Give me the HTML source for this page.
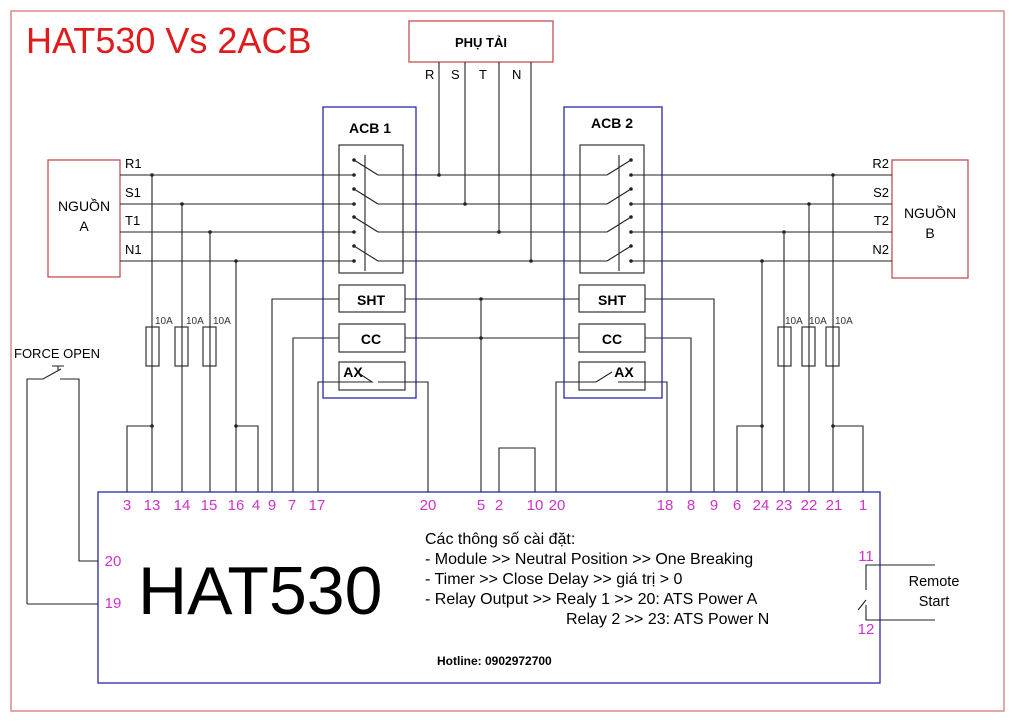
<!DOCTYPE html>
<html><head><meta charset="utf-8"><style>
html,body{margin:0;padding:0;background:#fff;width:1024px;height:724px;overflow:hidden}
svg text{font-family:"Liberation Sans","Noto Sans CJK SC",sans-serif}
</style></head><body>
<svg width="1024" height="724" viewBox="0 0 1024 724" xmlns="http://www.w3.org/2000/svg">
<rect x="11" y="11" width="993" height="700" fill="none" stroke="#d98c8c" stroke-width="1.5"/>
<text x="26" y="53" font-size="36" fill="#e01b1b">HAT530 Vs 2ACB</text>

<g fill="none" stroke="#c05050" stroke-width="1.3">
<rect x="409" y="21" width="144" height="41"/>
<rect x="48" y="160" width="72" height="117"/>
<rect x="892" y="160" width="76" height="118"/>
</g>
<text x="481" y="47" font-size="13" font-weight="bold" text-anchor="middle">PHỤ TẢI</text>
<text x="84" y="211" font-size="14" text-anchor="middle">NGUỒN</text>
<text x="84" y="231" font-size="14" text-anchor="middle">A</text>
<text x="930" y="218" font-size="14" text-anchor="middle">NGUỒN</text>
<text x="930" y="238" font-size="14" text-anchor="middle">B</text>

<g font-size="13">
<text x="425" y="79">R</text><text x="451" y="79">S</text><text x="479" y="79">T</text><text x="512" y="79">N</text>
<text x="125" y="168">R1</text><text x="125" y="197">S1</text><text x="125" y="225">T1</text><text x="125" y="254">N1</text>
<text x="889" y="168" text-anchor="end">R2</text><text x="889" y="197" text-anchor="end">S2</text><text x="889" y="225" text-anchor="end">T2</text><text x="889" y="254" text-anchor="end">N2</text>
</g>

<g fill="none" stroke="#2a2aa0" stroke-width="1.3">
<rect x="323" y="107" width="93" height="291"/>
<rect x="564" y="107" width="98" height="291"/>
<rect x="98" y="492" width="782" height="191"/>
</g>
<text x="370" y="133" font-size="14" font-weight="bold" text-anchor="middle">ACB 1</text>
<text x="612" y="128" font-size="14" font-weight="bold" text-anchor="middle">ACB 2</text>

<g fill="none" stroke="#333" stroke-width="1.2">
<rect x="339" y="145" width="64" height="128"/>
<rect x="580" y="145" width="64" height="128"/>
<rect x="339" y="285" width="66" height="27"/>
<rect x="339" y="324" width="66" height="28"/>
<rect x="339" y="362" width="66" height="28"/>
<rect x="579" y="285" width="66" height="27"/>
<rect x="579" y="324" width="66" height="28"/>
<rect x="579" y="362" width="66" height="28"/>
<rect x="146" y="327" width="13" height="39"/><rect x="175" y="327" width="13" height="39"/><rect x="203" y="327" width="13" height="39"/>
<rect x="778" y="327" width="13" height="39"/><rect x="802" y="327" width="13" height="39"/><rect x="826" y="327" width="13" height="39"/>
</g>
<g font-size="14" font-weight="bold" text-anchor="middle">
<text x="371" y="305">SHT</text><text x="371" y="344">CC</text>
<text x="612" y="305">SHT</text><text x="612" y="344">CC</text>
<text x="353" y="377">AX</text><text x="624" y="377">AX</text>
</g>
<g font-size="10" fill="#333">
<text x="155" y="324">10A</text><text x="186" y="324">10A</text><text x="213" y="324">10A</text>
<text x="785" y="324">10A</text><text x="809" y="324">10A</text><text x="835" y="324">10A</text>
</g>

<g fill="none" stroke="#222" stroke-width="1.1">
<path d="M120 175H354M120 204H354M120 232H354M120 261H354"/>
<path d="M378 175H607M378 204H607M378 232H607M378 261H607"/>
<path d="M631 175H892M631 204H892M631 232H892M631 261H892"/>
<path d="M354 160L378 175M354 189L378 204M354 217L378 232M354 246L378 261M365 155V271"/>
<path d="M631 160L607 175M631 189L607 204M631 217L607 232M631 246L607 261M619 155V271"/>
<path d="M439 62V175M465 62V204M499 62V232M531 62V261"/>
<path d="M152 175V492M182 204V492M210 232V492M236 261V492"/>
<path d="M152 426H127V492M236 426H258V492"/>
<path d="M833 175V492M809 204V492M784 232V492M762 261V492"/>
<path d="M762 426H737V492M833 426H863V492"/>
<path d="M339 299H272V492M339 338H293V492"/>
<path d="M405 299H579M405 338H579M481 299V492"/>
<path d="M645 299H714V492M645 338H691V492"/>
<path d="M318 492V382H372L360 374M378 382H428V492"/>
<path d="M556 492V382H596L612 372M618 382H667V492"/>
<path d="M499 492V448H535V492"/>
<path d="M27 604V379H43L61 369M60 379H79V561H98M27 604H98M58 366V370M52 366H64"/>
<path d="M935 565H866V590M866 600L858 610M866 605V620H935"/>
</g>
<g fill="#222">
<circle cx="354" cy="160" r="1.8"/><circle cx="354" cy="175" r="1.8"/><circle cx="354" cy="189" r="1.8"/><circle cx="354" cy="204" r="1.8"/><circle cx="354" cy="217" r="1.8"/><circle cx="354" cy="232" r="1.8"/><circle cx="354" cy="246" r="1.8"/><circle cx="354" cy="261" r="1.8"/>
<circle cx="631" cy="160" r="1.8"/><circle cx="631" cy="175" r="1.8"/><circle cx="631" cy="189" r="1.8"/><circle cx="631" cy="204" r="1.8"/><circle cx="631" cy="217" r="1.8"/><circle cx="631" cy="232" r="1.8"/><circle cx="631" cy="246" r="1.8"/><circle cx="631" cy="261" r="1.8"/>
<circle cx="152" cy="175" r="1.8"/><circle cx="182" cy="204" r="1.8"/><circle cx="210" cy="232" r="1.8"/><circle cx="236" cy="261" r="1.8"/>
<circle cx="833" cy="175" r="1.8"/><circle cx="809" cy="204" r="1.8"/><circle cx="784" cy="232" r="1.8"/><circle cx="762" cy="261" r="1.8"/>
<circle cx="439" cy="175" r="1.8"/><circle cx="465" cy="204" r="1.8"/><circle cx="499" cy="232" r="1.8"/><circle cx="531" cy="261" r="1.8"/>
<circle cx="152" cy="426" r="1.8"/><circle cx="236" cy="426" r="1.8"/><circle cx="762" cy="426" r="1.8"/><circle cx="833" cy="426" r="1.8"/>
<circle cx="481" cy="299" r="1.8"/><circle cx="481" cy="338" r="1.8"/>
</g>

<g font-size="15" fill="#cc33cc" text-anchor="middle">
<text x="127" y="510">3</text><text x="152" y="510">13</text><text x="182" y="510">14</text><text x="209" y="510">15</text><text x="236" y="510">16</text><text x="256" y="510">4</text><text x="272" y="510">9</text><text x="292" y="510">7</text><text x="317" y="510">17</text><text x="428" y="510">20</text>
<text x="481" y="510">5</text><text x="499" y="510">2</text><text x="535" y="510">10</text><text x="557" y="510">20</text>
<text x="665" y="510">18</text><text x="691" y="510">8</text><text x="714" y="510">9</text><text x="737" y="510">6</text><text x="761" y="510">24</text><text x="784" y="510">23</text><text x="809" y="510">22</text><text x="834" y="510">21</text><text x="863" y="510">1</text>
<text x="113" y="566">20</text><text x="113" y="608">19</text>
<text x="866" y="561">11</text><text x="866" y="634">12</text>
</g>
<text x="14" y="358" font-size="13">FORCE OPEN</text>
<text x="138" y="614" font-size="68">HAT530</text>
<g font-size="16">
<text x="425" y="544">Các thông số cài đặt:</text>
<text x="425" y="564">- Module &gt;&gt; Neutral Position &gt;&gt; One Breaking</text>
<text x="425" y="584">- Timer &gt;&gt; Close Delay &gt;&gt; giá trị &gt; 0</text>
<text x="425" y="604">- Relay Output &gt;&gt; Realy 1 &gt;&gt; 20: ATS Power A</text>
<text x="566" y="624">Relay 2 &gt;&gt; 23: ATS Power N</text>
</g>
<text x="437" y="665" font-size="12" font-weight="bold">Hotline: 0902972700</text>
<text x="934" y="586" font-size="14.5" text-anchor="middle">Remote</text>
<text x="934" y="606" font-size="14.5" text-anchor="middle">Start</text>
</svg>
</body></html>
